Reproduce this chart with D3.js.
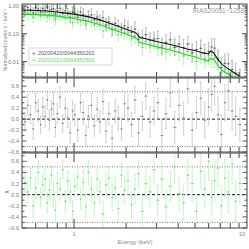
<!DOCTYPE html>
<html>
<head>
<meta charset="utf-8">
<script src="https://cdn.jsdelivr.net/npm/d3@7"></script>
<style>
  body { margin: 0; background: #fff; }
  text { font-family: "Liberation Sans", Arial, sans-serif; }
</style>
</head>
<body>
<div id="chart"></div>
<script>
// energy bins (keV), shared by both observations
const energies = [0.50,0.52,0.54,0.56,0.58,0.60,0.62,0.64,0.66,0.68,
  0.70,0.72,0.74,0.76,0.78,0.80,0.83,0.86,0.89,0.92,
  0.95,0.98,1.01,1.05,1.09,1.13,1.17,1.21,1.26,1.31,
  1.36,1.41,1.47,1.53,1.59,1.66,1.73,1.80,1.88,1.96,
  2.05,2.15,2.25,2.36,2.48,2.60,2.75,2.90,3.05,3.22,
  3.40,3.60,3.82,4.05,4.30,4.55,4.82,5.10,5.40,5.70,
  6.00,6.25,6.50,6.80,7.10,7.45,7.80,8.20,8.60,9.10];

// 20200420/0044350201
const blackCounts = [0.80,0.674,0.88,0.754,0.567,0.892,0.782,0.608,0.816,0.696,
  0.888,0.634,0.750,0.801,0.523,0.666,0.826,0.529,0.673,0.558,
  0.40,0.599,0.548,0.389,0.605,0.498,0.30,0.431,0.481,0.319,
  0.401,0.303,0.383,0.207,0.27,0.146,0.236,0.191,0.139,0.196,
  0.167,0.112,0.150,0.064,0.0746,0.0937,0.058,0.0644,0.0676,0.0336,
  0.0495,0.0607,0.0323,0.0431,0.0316,0.0434,0.021,0.0271,0.0301,0.0198,
  0.0229,0.0336,0.0304,0.0127,0.0062,0.0087,0.0084,0.0052,0.0039,0.0027];
const blackResid = [0.12,-0.05,0.25,0.08,-0.18,0.30,0.15,-0.10,0.22,0.05,
  0.35,-0.02,0.18,0.28,-0.15,0.10,0.40,-0.08,0.20,0.02,
  -0.25,0.15,0.08,-0.20,0.30,0.12,-0.30,0.05,0.25,-0.12,
  0.18,-0.05,0.32,-0.22,0.10,-0.35,0.15,0.02,-0.18,0.28,
  0.20,-0.10,0.35,-0.25,0.05,0.42,-0.05,0.15,0.30,-0.30,
  0.10,0.48,-0.15,0.25,0.02,0.55,-0.20,0.12,0.38,-0.02,
  0.22,0.45,0.60,0.08,-0.28,0.30,0.52,0.15,0.05,-0.10];
const blackErr = [0.18,0.17,0.19,0.16,0.18,0.17,0.20,0.16,0.18,0.19,
  0.17,0.18,0.16,0.20,0.17,0.18,0.19,0.16,0.18,0.17,
  0.19,0.18,0.19,0.20,0.18,0.21,0.19,0.20,0.22,0.19,
  0.21,0.20,0.22,0.21,0.20,0.23,0.21,0.22,0.20,0.23,
  0.24,0.22,0.25,0.23,0.26,0.24,0.27,0.25,0.26,0.28,
  0.27,0.26,0.29,0.28,0.30,0.27,0.31,0.29,0.30,0.32,
  0.33,0.30,0.34,0.32,0.35,0.33,0.36,0.34,0.35,0.30];

// 20201021/0044350501
const greenCounts = [0.460,0.619,0.528,0.647,0.395,0.549,0.680,0.458,0.564,0.607,
  0.400,0.499,0.614,0.447,0.317,0.520,0.462,0.590,0.347,0.478,
  0.390,0.252,0.403,0.438,0.291,0.366,0.227,0.391,0.288,0.209,
  0.296,0.224,0.127,0.211,0.211,0.140,0.151,0.092,0.150,0.109,
  0.115,0.0672,0.0803,0.0773,0.0326,0.0515,0.0414,0.0522,0.030,0.0394,
  0.0222,0.0299,0.0357,0.0217,0.0162,0.0232,0.019,0.0101,0.018,0.0127,
  0.0168,0.0124,0.0138,0.0105,0.0042,0.0053,0.0037,0.0045,0.0021,0.0024];
const greenResid = [-0.10,0.22,0.05,0.30,-0.20,0.12,0.40,-0.05,0.18,0.28,
  -0.15,0.08,0.35,0.00,-0.28,0.20,0.10,0.45,-0.12,0.25,
  0.05,-0.30,0.15,0.32,-0.08,0.22,-0.22,0.40,0.10,-0.15,
  0.28,0.05,-0.35,0.18,0.30,-0.05,0.12,-0.25,0.35,0.08,
  0.25,-0.18,0.10,0.38,-0.30,0.20,0.05,0.45,-0.10,0.28,
  -0.22,0.15,0.50,0.02,-0.15,0.35,0.20,-0.30,0.42,0.10,
  0.60,-0.05,0.25,0.48,-0.20,0.30,0.05,0.55,-0.12,0.20];
const greenErr = [0.19,0.18,0.20,0.17,0.19,0.18,0.21,0.17,0.19,0.20,
  0.18,0.19,0.17,0.21,0.18,0.19,0.20,0.17,0.19,0.18,
  0.20,0.19,0.20,0.21,0.19,0.22,0.20,0.21,0.23,0.20,
  0.22,0.21,0.23,0.22,0.21,0.24,0.22,0.23,0.21,0.24,
  0.25,0.23,0.26,0.24,0.27,0.25,0.28,0.26,0.27,0.29,
  0.28,0.27,0.30,0.29,0.31,0.28,0.32,0.30,0.31,0.33,
  0.34,0.31,0.35,0.33,0.36,0.34,0.37,0.35,0.36,0.32];

// folded model curves
const modelEnergies = [0.5,0.6,0.7,0.8,0.9,1.0,1.2,1.4,1.6,1.8,2.0,2.2,2.3,2.4,2.6,
  3.0,3.5,4.0,4.5,5.0,5.5,6.0,6.15,6.4,6.8,7.2,7.8,8.5,9.1];
const blackModel = [0.715,0.686,0.658,0.605,0.556,0.512,0.415,0.323,0.241,0.187,0.146,0.118,0.104,0.074,0.066,
  0.053,0.043,0.035,0.0285,0.025,0.021,0.0188,0.024,0.021,0.0118,0.0078,0.0055,0.0038,0.0030];
const greenModel = [0.511,0.49,0.47,0.433,0.39,0.353,0.282,0.216,0.159,0.123,0.096,0.0776,0.0684,0.0487,0.0429,
  0.0339,0.0271,0.0217,0.0174,0.015,0.0122,0.0105,0.0134,0.0122,0.0071,0.0048,0.0035,0.0025,0.0020];

const countTicks = [1, 0.1, 0.01];
const countTickLabels = ["1.00", "0.10", "0.01"];
const residTicks = [0.6, 0.4, 0.2, 0.0, -0.2, -0.4, -0.6];
const xTickLabels = [1, 10];
const legendLabels = ["20200420/0044350201", "20201021/0044350501"];
const title = "IRAS20051\u22121253";

const width = 249, height = 249;
const left = 22, right = 247;
const panels = [{y0: 4, y1: 77}, {y0: 78, y1: 152}, {y0: 153, y1: 228}];

const svg = d3.select("#chart").append("svg")
    .attr("width", width)
    .attr("height", height);

const x = d3.scaleLog().domain([0.5, 10]).range([left, right]);
const yTop = d3.scaleLog().domain([0.0028, 1.18]).range([panels[0].y1, panels[0].y0]);
const yMid = d3.scaleLinear().domain([-0.6, 0.75]).range([panels[1].y1, panels[1].y0]);
const yBot = d3.scaleLinear().domain([-0.6, 0.75]).range([panels[2].y1, panels[2].y0]);

// bin edges (geometric midpoints)
const lo = energies.map((e, i) => i === 0 ? e * Math.sqrt(e / energies[1]) : Math.sqrt(e * energies[i - 1]));
const hi = energies.map((e, i) => i === energies.length - 1 ? e * Math.sqrt(e / energies[i - 1]) : Math.sqrt(e * energies[i + 1]));

// clip paths
const defs = svg.append("defs");
panels.forEach((p, i) => {
    defs.append("clipPath").attr("id", "clip" + i)
        .append("rect").attr("x", left).attr("y", p.y0)
        .attr("width", right - left).attr("height", p.y1 - p.y0);
});

// reference lines in the residual panels
[[yMid, 1], [yBot, 2]].forEach(([y, i]) => {
    const g = svg.append("g").attr("clip-path", `url(#clip${i})`);
    [0.5, -0.5].forEach(v => {
        g.append("line").attr("x1", left).attr("x2", right)
            .attr("y1", y(v)).attr("y2", y(v))
            .attr("stroke", "#555").attr("stroke-width", 0.8)
            .attr("stroke-dasharray", "1,1.5");
    });
    g.append("line").attr("x1", left).attr("x2", right)
        .attr("y1", y(0)).attr("y2", y(0))
        .attr("stroke", "#111").attr("stroke-width", 1)
        .attr("stroke-dasharray", "3,2");
});

// draws error-bar crosses
function drawBars(g, vals, yLo, yHi, yVal, barColor, dotColor) {
    const pts = g.selectAll(null).data(vals).enter().append("g");
    pts.append("line")
        .attr("x1", (d, i) => x(lo[i])).attr("x2", (d, i) => x(hi[i]))
        .attr("y1", (d, i) => yVal(i)).attr("y2", (d, i) => yVal(i))
        .attr("stroke", barColor).attr("stroke-width", 0.8);
    pts.append("line")
        .attr("x1", (d, i) => x(energies[i])).attr("x2", (d, i) => x(energies[i]))
        .attr("y1", (d, i) => yLo(i)).attr("y2", (d, i) => yHi(i))
        .attr("stroke", barColor).attr("stroke-width", 0.8);
    [yLo, yHi].forEach(f => {
        pts.append("line")
            .attr("x1", (d, i) => x(energies[i]) - 1).attr("x2", (d, i) => x(energies[i]) + 1)
            .attr("y1", (d, i) => f(i)).attr("y2", (d, i) => f(i))
            .attr("stroke", barColor).attr("stroke-width", 0.7);
    });
    pts.append("rect")
        .attr("x", (d, i) => x(energies[i]) - 0.6).attr("y", (d, i) => yVal(i) - 0.6)
        .attr("width", 1.2).attr("height", 1.2)
        .attr("fill", dotColor);
}

// top panel: spectra
const gTop = svg.append("g").attr("clip-path", "url(#clip0)");
drawBars(gTop, greenCounts,
    i => yTop(greenCounts[i] / Math.pow(10, greenErr[i])),
    i => yTop(greenCounts[i] * Math.pow(10, greenErr[i])),
    i => yTop(greenCounts[i]), "#9ef59e", "#3ccf3c");
drawBars(gTop, blackCounts,
    i => yTop(blackCounts[i] / Math.pow(10, blackErr[i])),
    i => yTop(blackCounts[i] * Math.pow(10, blackErr[i])),
    i => yTop(blackCounts[i]), "#a8a8a8", "#444");

const line = d3.line().x(d => x(d[0])).y(d => yTop(d[1]));
gTop.append("path")
    .attr("d", line(modelEnergies.map((e, i) => [e, greenModel[i]])))
    .attr("fill", "none").attr("stroke", "#11e011").attr("stroke-width", 1.1);
gTop.append("path")
    .attr("d", line(modelEnergies.map((e, i) => [e, blackModel[i]])))
    .attr("fill", "none").attr("stroke", "#111").attr("stroke-width", 1.1);

// residual panels
const gMid = svg.append("g").attr("clip-path", "url(#clip1)");
drawBars(gMid, blackResid,
    i => yMid(blackResid[i] - blackErr[i]),
    i => yMid(blackResid[i] + blackErr[i]),
    i => yMid(blackResid[i]), "#c4c4c4", "#6a6a6a");

const gBot = svg.append("g").attr("clip-path", "url(#clip2)");
drawBars(gBot, greenResid,
    i => yBot(greenResid[i] - greenErr[i]),
    i => yBot(greenResid[i] + greenErr[i]),
    i => yBot(greenResid[i]), "#aef7ae", "#4fd94f");

// x ticks on every panel edge
const xMinor = [0.6, 0.7, 0.8, 0.9, 2, 3, 4, 5, 6, 7, 8, 9];
const xMajor = [1];
panels.forEach(p => {
    [[p.y1, -1], [p.y0, 1]].forEach(([yy, dir]) => {
        xMinor.forEach(v => {
            svg.append("line").attr("x1", x(v)).attr("x2", x(v))
                .attr("y1", yy).attr("y2", yy + dir * 5)
                .attr("stroke", "#333").attr("stroke-width", 0.9);
        });
        xMajor.forEach(v => {
            svg.append("line").attr("x1", x(v)).attr("x2", x(v))
                .attr("y1", yy).attr("y2", yy + dir * 9)
                .attr("stroke", "#333").attr("stroke-width", 0.9);
        });
    });
});

// y ticks: top log axis
const logMinor = [];
[0.001, 0.01, 0.1, 1].forEach(d => {
    for (let k = 2; k <= 9; k++) if (d * k > 0.0028 && d * k < 1.18) logMinor.push(d * k);
});
[[left, 1], [right, -1]].forEach(([xx, dir]) => {
    logMinor.forEach(v => {
        svg.append("line").attr("x1", xx).attr("x2", xx + dir * 2.5)
            .attr("y1", yTop(v)).attr("y2", yTop(v))
            .attr("stroke", "#333").attr("stroke-width", 0.8);
    });
    countTicks.forEach(v => {
        svg.append("line").attr("x1", xx).attr("x2", xx + dir * 5)
            .attr("y1", yTop(v)).attr("y2", yTop(v))
            .attr("stroke", "#333").attr("stroke-width", 0.9);
    });
});
countTicks.forEach((v, i) => {
    svg.append("text").attr("x", 19).attr("y", yTop(v) + 2)
        .attr("text-anchor", "end").attr("font-size", 5.5).attr("fill", "#777")
        .text(countTickLabels[i]);
});

// y ticks: residual axes
[yMid, yBot].forEach(y => {
    [[left, 1], [right, -1]].forEach(([xx, dir]) => {
        d3.range(-6, 8).forEach(k => {
            const v = k / 10;
            const major = k % 2 === 0;
            svg.append("line").attr("x1", xx).attr("x2", xx + dir * (major ? 4.5 : 2.5))
                .attr("y1", y(v)).attr("y2", y(v))
                .attr("stroke", "#333").attr("stroke-width", 0.8);
        });
    });
    residTicks.forEach(v => {
        svg.append("text").attr("x", 19).attr("y", y(v) + 2)
            .attr("text-anchor", "end").attr("font-size", 5.5).attr("fill", "#777")
            .text((v < 0 ? "\u2212" : "") + Math.abs(v).toFixed(1));
    });
});

// frames
panels.forEach(p => {
    svg.append("rect").attr("x", left).attr("y", p.y0)
        .attr("width", right - left).attr("height", p.y1 - p.y0)
        .attr("fill", "none").attr("stroke", "#444").attr("stroke-width", 1);
});

// x tick labels and title
xTickLabels.forEach(v => {
    svg.append("text").attr("x", Math.min(x(v), 242)).attr("y", 236)
        .attr("text-anchor", "middle").attr("font-size", 6).attr("fill", "#888")
        .text(v);
});
svg.append("text").attr("x", 135).attr("y", 244)
    .attr("text-anchor", "middle").attr("font-size", 6).attr("fill", "#888")
    .text("Energy (keV)");

svg.append("text").attr("transform", "translate(7,40) rotate(-90)")
    .attr("text-anchor", "middle").attr("font-size", 5).attr("fill", "#888")
    .text("Normalized counts s\u207B\u00B9 keV\u207B\u00B9");
svg.append("text").attr("transform", "translate(8,192) rotate(-90)")
    .attr("text-anchor", "middle").attr("font-size", 6).attr("fill", "#666")
    .text("\u03C7");

svg.append("text").attr("x", 244).attr("y", 13)
    .attr("text-anchor", "end")
    .attr("font-size", 6.5).attr("fill", "#999")
    .text(title);

// legend
const legend = svg.append("g");
legend.append("rect").attr("x", 29).attr("y", 48).attr("width", 83).attr("height", 17)
    .attr("fill", "#fff").attr("stroke", "#ccc").attr("stroke-width", 0.8);
const legendColors = ["#555", "#55e055"];
legendLabels.forEach((t, i) => {
    legend.append("text").attr("x", 32).attr("y", 54.5 + i * 7)
        .attr("font-size", 6).attr("fill", legendColors[i]).text("+");
    legend.append("text").attr("x", 38).attr("y", 54.5 + i * 7)
        .attr("font-size", 5.5).attr("fill", legendColors[i]).text(t);
});
</script>
</body>
</html>
